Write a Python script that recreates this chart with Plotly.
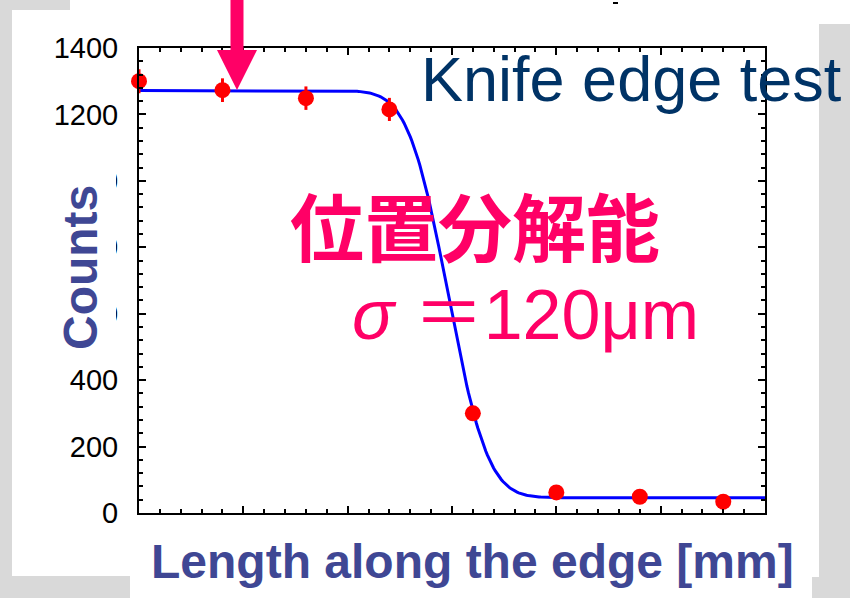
import math
import plotly.graph_objects as go

# Knife-edge scan: measured counts vs. position along the edge (mm)
positions_mm = [0.00, 0.32, 0.64, 0.96, 1.28, 1.60, 1.92, 2.24]
counts = [1300, 1273, 1249, 1215, 300, 62, 49, 34]
count_errors = [math.sqrt(c) for c in counts]

# Error-function edge fit parameters
FIT_HIGH = 1272.0
FIT_LOW = 46.0
FIT_MU_MM = 1.185
FIT_SIGMA_MM = 0.120  # 120 um position resolution

X_RANGE = [0.0, 2.4]
Y_RANGE = [0, 1400]
y_tick_values = [0, 200, 400, 600, 800, 1000, 1200, 1400]
y_tick_labels = ["0", "200", "400", "600", "800", "1000", "1200", "1400"]

# Figure geometry (pixels)
W, H = 850, 598
L, R, T, B = 139, 85, 48, 85
PW, PH = W - L - R, H - T - B


def px(x):
    return (x - L) / PW


def py(y):
    return (H - B - y) / PH


def edge_model(x):
    frac = 0.5 * math.erfc((x - FIT_MU_MM) / (math.sqrt(2) * FIT_SIGMA_MM))
    return FIT_LOW + (FIT_HIGH - FIT_LOW) * frac


n_fit = 400
fit_x = [X_RANGE[0] + (X_RANGE[1] - X_RANGE[0]) * i / (n_fit - 1) for i in range(n_fit)]
fit_y = [edge_model(x) for x in fit_x]

PINK = "#FF0066"
NAVY = "#003366"
SLATE = "#3F4794"
GRAY = "#d9d9d9"

fig = go.Figure()
fig.add_trace(go.Scatter(
    x=fit_x, y=fit_y, mode="lines",
    line=dict(color="#0000FF", width=3),
    hoverinfo="skip", showlegend=False,
))
fig.add_trace(go.Scatter(
    x=positions_mm, y=counts, mode="markers",
    marker=dict(color="#FF0000", size=16, line=dict(width=0)),
    error_y=dict(type="data", array=count_errors, color="#FF0000", thickness=3, width=0),
    cliponaxis=False, showlegend=False,
))

axis_common = dict(
    showline=True, linecolor="black", linewidth=2, mirror="allticks",
    ticks="inside", ticklen=7, tickwidth=1.5, tickcolor="black",
    showgrid=False, zeroline=False,
)

fig.update_xaxes(
    range=X_RANGE, tick0=0, dtick=0.4, showticklabels=False,
    minor=dict(dtick=0.08, ticks="inside", ticklen=4, tickwidth=1.5, tickcolor="black"),
    **axis_common,
)
fig.update_yaxes(
    range=Y_RANGE, tickmode="array", tickvals=y_tick_values, ticktext=y_tick_labels,
    tickfont=dict(family="Liberation Sans, Arial, sans-serif", size=29, color="black"),
    ticklabelstandoff=13,
    minor=dict(dtick=40, ticks="inside", ticklen=4, tickwidth=1.5, tickcolor="black"),
    **axis_common,
)

shapes = []
# textured slide background around the white panel
for x0, y0, x1, y1 in [(0, 0, 12, H), (0, 0, 70, 10), (819, 24, W, H),
                       (812, 577, W, H), (0, 576, 130, H)]:
    shapes.append(dict(type="rect", xref="paper", yref="paper", layer="below",
                       x0=px(x0), x1=px(x1), y0=py(y1), y1=py(y0),
                       fillcolor=GRAY, line=dict(width=0)))
# white label box behind the y title
shapes.append(dict(type="rect", xref="paper", yref="paper", layer="above",
                   x0=px(40), x1=px(116), y0=py(370), y1=py(165),
                   fillcolor="white", line=dict(width=0)))
# small dash at the top
shapes.append(dict(type="line", xref="paper", yref="paper", layer="above",
                   x0=px(613), x1=px(618), y0=py(3), y1=py(3),
                   line=dict(color="black", width=2)))
# pink pointer arrow
arrow_pts = [(230.5, -2), (243.5, -2), (243.5, 50), (257, 50), (237, 90), (217, 50), (230.5, 50)]
path = "M " + " L ".join(f"{px(a):.5f},{py(b):.5f}" for a, b in arrow_pts) + " Z"
shapes.append(dict(type="path", xref="paper", yref="paper", layer="above", path=path,
                   fillcolor=PINK, line=dict(width=0)))

annotations = [
    dict(text="Knife edge test", x=px(419), y=py(79), xref="paper", yref="paper",
         xanchor="left", yanchor="middle", showarrow=False,
         font=dict(family="Liberation Sans, Arial, sans-serif", size=63, color=NAVY)),
    dict(text="位置分解能", x=px(288), y=py(223), xref="paper", yref="paper",
         xanchor="left", yanchor="middle", showarrow=False,
         font=dict(family="Noto Sans CJK JP", size=74, color=PINK, weight="bold")),
    dict(text="<i>σ</i> ＝120μm", x=px(350), y=py(315), xref="paper", yref="paper",
         xanchor="left", yanchor="middle", showarrow=False,
         font=dict(family="Liberation Sans, Noto Sans CJK JP, sans-serif", size=70, color=PINK)),
    dict(text="<b>Counts</b>", x=px(80), y=py(268), xref="paper", yref="paper",
         xanchor="center", yanchor="middle", textangle=-90, showarrow=False,
         font=dict(family="Liberation Sans, Arial, sans-serif", size=48, color=SLATE)),
    dict(text="<b>Length along the edge [mm]</b>", x=px(472), y=py(561), xref="paper", yref="paper",
         xanchor="center", yanchor="middle", showarrow=False,
         font=dict(family="Liberation Sans, Arial, sans-serif", size=48, color=SLATE)),
]

fig.update_layout(
    width=W, height=H,
    margin=dict(l=L, r=R, t=T, b=B, pad=0),
    paper_bgcolor="white", plot_bgcolor="white",
    shapes=shapes, annotations=annotations,
    showlegend=False,
)

fig.write_html("out.html")
